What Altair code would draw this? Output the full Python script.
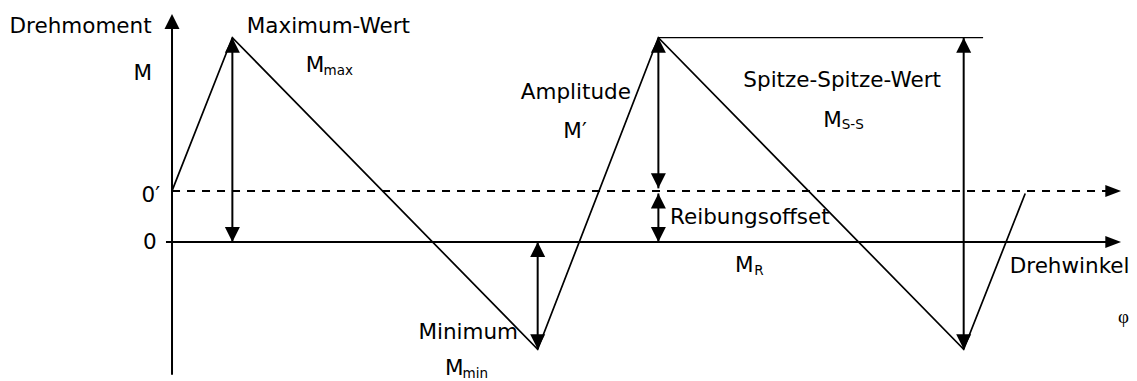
import altair as alt
import pandas as pd

# ---- data (x: rotation angle, period = 360; y: torque in units of M_R) ----
phi = [0, 51, 309, 411, 669, 721]
torque = [1.0, 4.0, -2.1, 4.0, -2.1, 0.95]

M_R = 1.0      # friction offset (dashed line 0')
M_MAX = 4.0
M_MIN = -2.1

# straight lines: x1, x2, y
solid_h = {"x1": [-5.1], "x2": [792], "y": [0.0]}          # Drehwinkel axis
dashed_h = {"x1": [0], "x2": [792], "y": [M_R]}            # 0' line
thin_h = {"x1": [411], "x2": [685.4], "y": [M_MAX]}        # peak reference line

# vertical lines: x, y1, y2 (axis + double arrows)
vert_x = [0, 51, 309, 411, 411, 669]
vert_y1 = [-2.6, 0.0, M_MIN, 1.05, 0.0, M_MIN]
vert_y2 = [4.3, M_MAX, 0.0, M_MAX, 0.95, M_MAX]

# arrow heads: x, y, direction
head_x = [0, 802, 802, 51, 51, 309, 309, 411, 411, 411, 411, 669, 669]
head_y = [4.464, 0.0, M_R, M_MAX, 0.0, 0.0, M_MIN, M_MAX, 1.05, 0.95, 0.0, M_MAX, M_MIN]
head_dir = ["up", "right", "right", "up", "down", "up", "down", "up", "down", "up", "down", "up", "down"]

# labels
main_text = ["Maximum-Wert", "M", "Amplitude", "M\u2032", "Reibungsoffset", "M",
             "Minimum", "M", "Spitze-Spitze-Wert", "M", "Drehwinkel"]
main_x = [63.1, 113.0, 294.7, 330.7, 420.8, 475.8, 208.2, 230.7, 482.8, 550.4, 707.9]
main_y = [4.086, 3.334, 2.80, 2.042, 0.347, -0.581, -1.898, -2.603, 3.029, 2.258, -0.612]

sub_text = ["max", "R", "min", "S-S"]
sub_x = [128.0, 492.0, 245.5, 566.0]
sub_y = [3.27, -0.646, -2.672, 2.22]

axis_text = ["Drehmoment", "M", "0\u2032", "0"]
axis_x = [-17.2, -16.9, -10.1, -12.9]
axis_y = [4.086, 3.172, 0.789, -0.142]

phi_text = ["\u03c6"]
phi_x = [799.5]
phi_y = [-1.59]

X_DOMAIN = [-138.6, 808.7]
Y_DOMAIN = [-2.721, 4.581]

SHAPES = {
    "up": "M0,0L-1,2L1,2Z",
    "down": "M0,0L-1,-2L1,-2Z",
    "right": "M0,0L-2.1,-0.8L-2.1,0.8Z",
}

xs = alt.Scale(domain=X_DOMAIN, nice=False, zero=False)
ys = alt.Scale(domain=Y_DOMAIN, nice=False, zero=False)


def X(f):
    return alt.X(f, type="quantitative", scale=xs, axis=None)


def Y(f):
    return alt.Y(f, type="quantitative", scale=ys, axis=None)


curve = alt.Chart(pd.DataFrame({"phi": phi, "M": torque})).mark_line(
    color="black", strokeWidth=1.7
).encode(x=X("phi"), y=Y("M"), order=alt.Order("phi:Q"))

h_solid = alt.Chart(pd.DataFrame(solid_h)).mark_rule(color="black", strokeWidth=2).encode(
    x=X("x1"), x2="x2:Q", y=Y("y"))
h_dashed = alt.Chart(pd.DataFrame(dashed_h)).mark_rule(
    color="black", strokeWidth=2, strokeDash=[8, 7]).encode(x=X("x1"), x2="x2:Q", y=Y("y"))
h_thin = alt.Chart(pd.DataFrame(thin_h)).mark_rule(color="black", strokeWidth=1.2).encode(
    x=X("x1"), x2="x2:Q", y=Y("y"))

verts = alt.Chart(pd.DataFrame({"x": vert_x, "y1": vert_y1, "y2": vert_y2})).mark_rule(
    color="black", strokeWidth=2).encode(x=X("x"), y=Y("y1"), y2="y2:Q")

heads_df = pd.DataFrame({"x": head_x, "y": head_y,
                         "shape": [SHAPES[d] for d in head_dir]})
heads = alt.Chart(heads_df).mark_point(
    filled=True, opacity=1, color="black", strokeWidth=0, size=225
).encode(x=X("x"), y=Y("y"), shape=alt.Shape("shape:N", scale=None))

FONT = "DejaVu Sans"
main_lbl = alt.Chart(pd.DataFrame({"t": main_text, "x": main_x, "y": main_y})).mark_text(
    font=FONT, fontSize=21.5, align="left", baseline="alphabetic", color="black"
).encode(x=X("x"), y=Y("y"), text="t:N")
sub_lbl = alt.Chart(pd.DataFrame({"t": sub_text, "x": sub_x, "y": sub_y})).mark_text(
    font=FONT, fontSize=13.5, align="left", baseline="alphabetic", color="black"
).encode(x=X("x"), y=Y("y"), text="t:N")
axis_lbl = alt.Chart(pd.DataFrame({"t": axis_text, "x": axis_x, "y": axis_y})).mark_text(
    font=FONT, fontSize=21.5, align="right", baseline="alphabetic", color="black"
).encode(x=X("x"), y=Y("y"), text="t:N")
phi_lbl = alt.Chart(pd.DataFrame({"t": phi_text, "x": phi_x, "y": phi_y})).mark_text(
    font="Liberation Serif", fontSize=19, align="left", baseline="alphabetic", color="black"
).encode(x=X("x"), y=Y("y"), text="t:N")

chart = alt.layer(
    h_dashed, h_solid, h_thin, verts, curve, heads, main_lbl, sub_lbl, axis_lbl, phi_lbl
).properties(
    width=1121, height=373, padding=0, background="white",
    autosize=alt.AutoSizeParams(type="none"),
).configure_view(stroke=None)

chart.save("out.html", embed_options={"renderer": "svg", "actions": False})
